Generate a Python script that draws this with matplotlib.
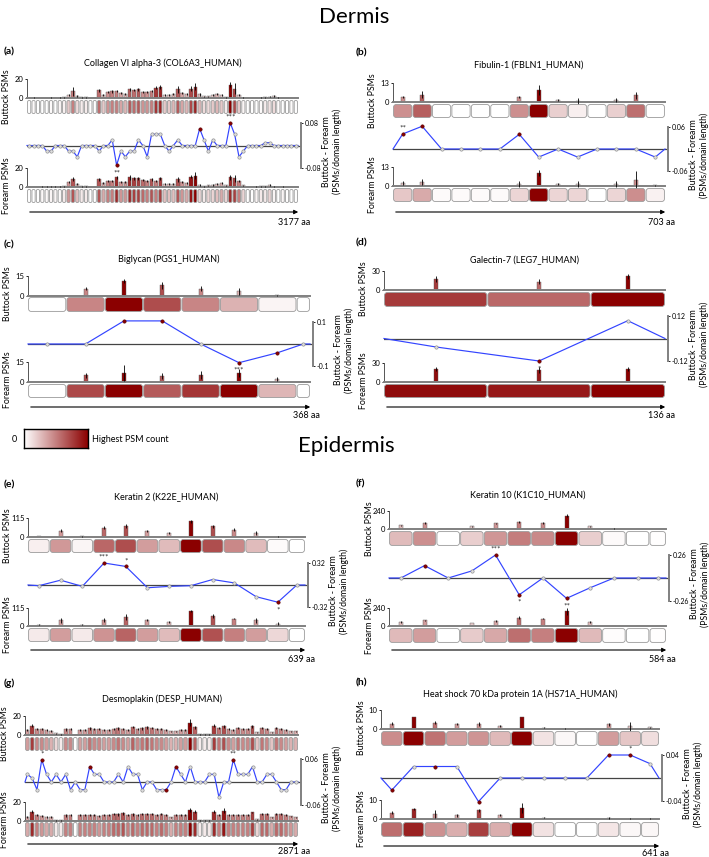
import numpy as np
import matplotlib
matplotlib.use("Agg")
import matplotlib.pyplot as plt
from matplotlib.colors import LinearSegmentedColormap
from matplotlib.patches import FancyBboxPatch, FancyArrowPatch

plt.rcParams['font.family'] = ['Lato', 'DejaVu Sans']

W, H = 709, 857

# ---- data (PSM counts per domain, buttock / forearm, and difference) ----
a_title = "Collagen VI alpha-3 (COL6A3_HUMAN)"
a_len = 3177
a_widths = [1] * 62
a_butt = [0, 0.3, 0, 0, 0, 0.3, 0, 0.5, 0.8, 3, 7, 2, 1, 1, 0, 0,
          8, 3, 6, 7, 7, 5, 4, 9, 8, 9, 6, 6, 7, 11, 12, 3, 3, 4, 9, 5, 4, 10, 12, 4, 2, 2, 3, 4, 3, 1, 14, 10, 3, 0.5,
          0, 0, 0, 0.3, 1, 1.5, 2, 0.3, 0, 0, 0.2, 0]
a_butt_err = [0, 0.3, 0, 0, 0, 0.3, 0, 0.4, 0.6, 1, 5, 1, 0.5, 0.5, 0, 0,
              1.5, 1, 1, 1.5, 1, 1, 1, 1.5, 1, 1.5, 1, 1, 1, 2, 2, 1, 1, 1, 4, 1, 1, 3, 4, 1.5, 0.5, 0.5, 1, 1, 1, 0.5, 2.5, 6, 1, 0.5,
              0, 0, 0, 0.3, 0.5, 0.5, 1, 0.3, 0, 0, 0.2, 0]
a_fore = [0, 0, 0, 0.3, 0.3, 0.5, 0.5, 0.3, 1, 5, 8, 3, 1, 1, 0, 0,
          8, 4, 6, 6, 10, 5, 5, 10, 9, 9, 7, 6, 8, 6, 9, 3, 3, 3, 8, 5, 4, 11, 12, 2, 1, 2, 2, 3, 4, 2, 10, 9, 6, 2,
          0, 0, 0.5, 1, 1, 2, 0.5, 0, 0.5, 0, 0, 0]
a_fore_err = [0, 0, 0, 0.3, 0.3, 0.4, 0.4, 0.3, 0.5, 1, 2, 1, 0.5, 0.5, 0, 0,
              1.5, 1, 1, 1, 2, 1, 1, 3, 1.5, 1.5, 1, 1, 1.5, 1, 1.5, 1, 1, 1, 3, 1, 1, 2, 4, 1, 0.5, 0.5, 1, 1, 1, 0.5, 3, 4, 1, 0.5,
              0, 0, 0.3, 0.5, 0.5, 1, 0.3, 0, 0.3, 0, 0, 0]
a_diff = [0, 0, 0, 0, -0.02, -0.02, 0, 0, 0, -0.02, -0.02, -0.04, 0, 0, 0, 0,
          -0.02, 0, 0, 0.02, -0.07, -0.02, -0.04, -0.02, -0.02, 0.02, 0, -0.04, 0.04, 0.04, 0.04, 0, -0.02, 0, 0.02,
          0, 0, 0, 0, 0.06, 0.02, -0.02, 0.02, 0, 0, 0, 0.08, 0.04, -0.04, -0.02,
          0, 0, 0, 0, 0.01, 0.01, 0, 0, 0, 0, 0, 0]
a_red = [20, 39, 46]
a_stars = {20: "**", 46: "***"}

b_title = "Fibulin-1 (FBLN1_HUMAN)"
b_len = 703
b_widths = [1] * 14
b_butt = [3.5, 5, 0, 0, 0, 0, 3.5, 8, 1.5, 0.5, 0, 1.5, 4.5, 0]
b_butt_err = [0.8, 2.5, 0, 0, 0, 0, 0.8, 3.5, 0.5, 2.5, 0, 1.5, 2.5, 0]
b_fore = [2, 3, 0.2, 0.2, 0.2, 0.2, 1.5, 9, 1.5, 1.5, 0, 1.5, 4, 0.5]
b_fore_err = [1.5, 2, 0, 0, 0, 0, 2, 2, 0.5, 2, 0, 2, 6, 0.5]
b_diff = [0.041, 0.062, 0, 0, 0, 0, 0.04, -0.022, 0, -0.022, 0, 0, 0, -0.022]
b_red = [0, 1, 6]
b_stars = {0: "**", 1: "***"}

c_title = "Biglycan (PGS1_HUMAN)"
c_len = 368
c_widths = [1, 1, 1, 1, 1, 1, 1, 0.35]
c_butt = [0, 5.5, 11.5, 8, 5.5, 3.5, 0.5, 0]
c_butt_err = [0, 1, 1.5, 2.5, 2, 2.5, 0.5, 0]
c_fore = [0, 5, 7, 4.5, 5.5, 7, 2, 0]
c_fore_err = [0, 2, 6, 2, 3, 3, 1.5, 0]
c_diff = [0, 0, 0.105, 0.105, 0, -0.085, -0.04, 0]
c_red = [2, 3, 5, 6]
c_stars = {2: "***", 3: "***", 5: "***"}

d_title = "Galectin-7 (LEG7_HUMAN)"
d_len = 136
d_widths = [1, 1, 0.72]
d_butt = [17, 13, 22]
d_butt_err = [5, 4, 4]
d_fore = [20, 19, 21]
d_fore_err = [3, 4, 3]
d_diff = [-0.045, -0.12, 0.095]
d_red = [1]
d_stars = {1: "*"}

e_title = "Keratin 2 (K22E_HUMAN)"
e_len = 639
e_widths = [1] * 12 + [0.75]
e_butt = [6, 38, 4, 56, 65, 36, 25, 94, 65, 44, 25, 2, 0]
e_butt_err = [2, 8, 2, 10, 12, 5, 5, 8, 10, 8, 12, 5, 0]
e_fore = [8, 36, 8, 40, 57, 36, 25, 94, 64, 47, 36, 15, 0]
e_fore_err = [3, 14, 4, 14, 20, 6, 4, 6, 15, 5, 14, 10, 0]
e_diff = [-0.01, 0.07, -0.02, 0.32, 0.27, -0.04, -0.02, -0.01, 0.08, 0.03, -0.17, -0.25, 0]
e_red = [3, 4, 11]
e_stars = {3: "***", 4: "*", 11: "*"}

f_title = "Keratin 10 (K1C10_HUMAN)"
f_len = 584
f_widths = [1] * 11 + [0.7]
f_butt = [48, 79, 0, 35, 74, 92, 83, 180, 35, 4, 0, 1]
f_butt_err = [8, 8, 0, 6, 10, 10, 10, 20, 8, 3, 0, 1]
f_fore = [53, 75, 0, 40, 67, 110, 98, 195, 53, 3, 0, 1]
f_fore_err = [8, 10, 0, 6, 12, 20, 10, 45, 12, 2, 0, 1]
f_diff = [0, 0.14, 0, 0.08, 0.26, -0.19, 0, -0.23, -0.11, 0, 0, 0]
f_red = [1, 4, 5, 7]
f_stars = {4: "***", 5: "*", 7: "**"}

g_title = "Desmoplakin (DESP_HUMAN)"
g_len = 2871
g_widths = [1] * 57
g_butt = [5, 10, 6, 6, 5, 4, 2, 1, 6, 6, 0, 5, 5, 7, 6, 6, 5, 5, 6, 7, 6, 5, 8, 6, 7, 8, 7, 6, 6, 5,
          4, 4, 5, 5, 13, 8, 1, 1, 1, 10, 7, 9, 6, 5, 7, 6, 6, 9, 3, 7, 6, 3, 7, 6, 5, 4, 4]
g_butt_err = [1, 2, 1, 1, 1, 1, 0.5, 0.5, 1.5, 1, 0, 1, 1, 1.5, 1, 1, 1, 1, 1, 1.5, 1, 1, 1, 1, 1.5, 1.5, 1, 1, 1, 1,
              0.5, 0.5, 1, 1, 4, 2, 0.5, 0.5, 0.5, 1.5, 1, 1.5, 1, 1, 1, 1, 1, 1.5, 0.5, 1, 1, 0.5, 1, 1, 1, 0.5, 0.5]
g_fore = [4, 10, 6, 5, 4, 4, 1, 1, 6, 6, 0, 6, 6, 6, 6, 5, 6, 6, 7, 7, 8, 6, 7, 6, 7, 7, 7, 6, 7, 6,
          4, 6, 6, 6, 12, 10, 1, 1, 1, 10, 6, 11, 6, 6, 6, 6, 6, 9, 2, 7, 7, 4, 7, 7, 6, 5, 4]
g_fore_err = [1, 1.5, 1, 1, 1, 1, 0.5, 0.5, 1.5, 1, 0, 1, 1, 1, 1, 1, 1, 1, 1, 1.5, 2, 1, 1.5, 1, 1, 1, 1, 1, 1, 1,
              0.5, 1, 1, 1, 2, 2, 0.5, 0.5, 0.5, 2, 1, 2.5, 1, 1, 1, 1, 1, 1, 0.5, 1, 1, 0.5, 1, 1, 1, 0.5, 0.5]
g_diff = [0.02, 0.01, -0.02, 0.058, 0.02, 0, 0.02, 0, 0.02, -0.02, 0, -0.02, -0.02, 0.04, 0.02, 0.02, 0, 0, 0, 0.02,
          0, 0.04, 0.02, 0.02, -0.02, 0, 0, -0.02, -0.02, -0.02, 0, 0.04, 0.02, 0, 0.04, 0, 0, 0, 0.02, 0.02,
          -0.04, 0, 0, 0.058, 0.02, 0.02, 0.02, 0.04, 0, 0, 0.02, 0.02, 0, -0.02, -0.02, 0, 0]
g_red = [3, 13, 29, 31, 43]
g_stars = {3: "*", 43: "**"}

h_title = "Heat shock 70 kDa protein 1A (HS71A_HUMAN)"
h_len = 641
h_widths = [1] * 12 + [0.83]
h_butt = [2.8, 6.2, 3.4, 2.4, 2.6, 1.7, 6.2, 0.7, 0.2, 0, 2.4, 1.4, 0.8]
h_butt_err = [0.8, 0, 1, 0.5, 1.2, 0.6, 0, 0.3, 0.2, 0, 0.6, 2.2, 0.4]
h_fore = [3.4, 5.2, 2.6, 1.9, 4.5, 1.9, 6, 0.7, 0, 0, 0.6, 0.2, 0.2]
h_fore_err = [0.8, 0.5, 2, 0.6, 0.8, 0.5, 2.6, 0.4, 0, 0, 0.4, 0.2, 0.2]
h_diff = [-0.021, 0.02, 0.02, 0.02, -0.041, 0, 0, 0, 0, 0, 0.04, 0.04, 0.025]
h_red = [0, 2, 4, 10, 11]
h_stars = {4: "***", 11: "*"}

# axis maxima: bar axis top, difference axis limit
ymaxes = {"a": 20, "b": 13, "c": 15, "d": 30, "e": 115, "f": 240, "g": 20, "h": 10}
dlims = {"a": 0.08, "b": 0.06, "c": 0.1, "d": 0.12, "e": 0.32, "f": 0.26, "g": 0.06, "h": 0.04}

# ---- layout in pixels (top-based): x0, x1, label y, title y, bars, domains, diff, bars, domains, arrow y, aa y
layout = {
    "a": (27, 298, 52, 63, (79, 98), (100, 114), (123, 168), (168, 187), (189, 203), 212, 222),
    "b": (393, 665, 53, 65, (83, 102), (104, 118), (127, 171), (167, 186), (188, 202), 212, 222),
    "c": (28, 310, 245, 259, (276, 296), (297, 312), (322, 366), (362, 382), (384, 398), 407, 416),
    "d": (384, 665, 243, 260, (271, 290), (292, 307), (316, 361), (363, 382), (384, 398), 407, 416),
    "e": (28, 305, 485, 497, (518, 537), (539, 553), (563, 607), (608, 626), (628, 642), 650, 660),
    "f": (389, 666, 484, 495, (511, 529), (531, 546), (555, 601), (608, 626), (628, 643), 650, 660),
    "g": (25, 298, 683, 699, (716, 735), (737, 751), (759, 805), (802, 821), (822, 837), 844, 852),
    "h": (381, 659, 683, 694, (710, 729), (731, 746), (755, 801), (800, 819), (822, 837), 846, 853),
}

psm_cmap = LinearSegmentedColormap.from_list("psm", ["#ffffff", "#8b0000"])
GREY = "#808080"
LINE_BLUE = "#3344ff"

fig = plt.figure(figsize=(W / 100, H / 100), dpi=100)


def px_axes(x0, x1, top, bottom):
    return fig.add_axes([x0 / W, 1 - bottom / H, (x1 - x0) / W, (bottom - top) / H])


def fy(y):
    return 1 - y / H


def bar_row(ax, centers, total, bar_w, vals, errs, ymax):
    vals = np.asarray(vals, float)
    colors = psm_cmap(vals / vals.max())
    ax.bar(centers, vals, width=bar_w, color=colors, edgecolor="#555555", linewidth=0.3, zorder=2)
    ax.errorbar(centers, vals, yerr=errs, fmt="none", ecolor="black", elinewidth=0.6, capsize=0,
                zorder=3, clip_on=False)
    ax.set_xlim(0, total)
    ax.set_ylim(0, ymax)
    ax.set_yticks([0, ymax])
    ax.set_xticks([])
    ax.patch.set_alpha(0)
    for s in ["top", "right"]:
        ax.spines[s].set_visible(False)
    ax.spines["bottom"].set_color(GREY)
    ax.spines["bottom"].set_linewidth(1.4)
    ax.spines["left"].set_color("#555555")
    ax.spines["left"].set_linewidth(0.7)
    ax.tick_params(axis="y", length=1.5, width=0.6, labelsize=5.5, pad=1)


def domain_row(ax, starts, widths, total, vals, x0, x1, top, bottom):
    vals = np.asarray(vals, float)
    ax.set_xlim(0, total)
    ax.set_ylim(0, 1)
    ax.axis("off")
    ux = total / (x1 - x0)
    uy = 1.0 / (bottom - top)
    for s, w, v in zip(starts, widths, vals):
        wpx = w / ux - 1.2
        r = min(2.5, 0.4 * wpx)
        box = FancyBboxPatch((s + 0.6 * ux, 0.04), w - 1.2 * ux, 0.92,
                             boxstyle=f"round,pad=0,rounding_size={r * ux}",
                             mutation_aspect=uy / ux,
                             fc=psm_cmap(v / vals.max()), ec="#9a9a9a", lw=0.6)
        ax.add_patch(box)


def draw_panel(key, title, aa, widths, butt, butt_err, fore, fore_err, diff, red, stars):
    x0, x1, lab_y, title_y, bar, dom1, dspan, fbar, dom2, arrow_y, aa_y = layout[key]
    ymax = ymaxes[key]
    lim = dlims[key]
    widths = np.asarray(widths, float)
    starts = np.concatenate([[0], np.cumsum(widths)[:-1]])
    centers = starts + widths / 2
    total = widths.sum()
    ux = total / (x1 - x0)
    bar_w = min(4 * ux, 0.8 * widths.min())

    # panel letter and protein name
    lab_x = 4 if x0 < 200 else 356
    fig.text(lab_x / W, fy(lab_y), f"({key})", fontsize=7.5, fontweight="bold", va="center")
    fig.text((x0 + x1) / 2 / W, fy(title_y), title, fontsize=6.5, ha="center", va="center")

    # buttock
    ax_b = px_axes(x0, x1, *bar)
    bar_row(ax_b, centers, total, bar_w, butt, butt_err, ymax)
    domain_row(px_axes(x0, x1, *dom1), starts, widths, total, butt, x0, x1, *dom1)
    fig.text((x0 - 20) / W, fy((bar[0] + dom1[1]) / 2), "Buttock PSMs", rotation=90,
             fontsize=6.3, ha="center", va="center")

    # forearm
    ax_f = px_axes(x0, x1, *fbar)
    bar_row(ax_f, centers, total, bar_w, fore, fore_err, ymax)
    domain_row(px_axes(x0, x1, *dom2), starts, widths, total, fore, x0, x1, *dom2)
    fig.text((x0 - 20) / W, fy((fbar[0] + dom2[1]) / 2), "Forearm PSMs", rotation=90,
             fontsize=6.3, ha="center", va="center")

    # difference
    ax_d = px_axes(x0, x1 + 3, *dspan)
    ax_d.set_xlim(0, total + 3 * ux)
    ax_d.set_ylim(-lim, lim)
    ax_d.patch.set_alpha(0)
    ax_d.axhline(0, color="#444444", lw=0.9, zorder=1)
    xs = np.concatenate([[0], centers, [total]])
    ys = np.concatenate([[0], diff, [0]])
    ax_d.plot(xs, ys, color=LINE_BLUE, lw=0.85, zorder=2, clip_on=False)
    diff = np.asarray(diff, float)
    is_red = np.isin(np.arange(len(diff)), red)
    ax_d.plot(centers[~is_red], diff[~is_red], "o", ms=2.4, mfc="#dddddd", mec="#8a8a8a", mew=0.45,
              zorder=3, clip_on=False)
    ax_d.plot(centers[is_red], diff[is_red], "o", ms=2.4, mfc="#8b0000", mec="#5a0000", mew=0.45,
              zorder=4, clip_on=False)
    for i, s in stars.items():
        up = diff[i] >= 0
        ax_d.annotate(s, (centers[i], diff[i]), xytext=(0, 1.5 if up else -3), textcoords="offset points",
                      ha="center", va="bottom" if up else "top", fontsize=6, color="#333333")
    for s in ["top", "left", "bottom"]:
        ax_d.spines[s].set_visible(False)
    ax_d.spines["right"].set_color(GREY)
    ax_d.spines["right"].set_linewidth(1.4)
    ax_d.set_xticks([])
    ax_d.yaxis.tick_right()
    ax_d.set_yticks([-lim, lim])
    ax_d.set_yticklabels([f"{-lim:g}", f"{lim:g}"])
    ax_d.tick_params(axis="y", length=1.5, width=0.6, labelsize=5, pad=1)
    zero_y = (dspan[0] + dspan[1]) / 2
    fig.text((x1 + 34) / W, fy(zero_y + 6), "Buttock - Forearm\n(PSMs/domain length)", rotation=90,
             fontsize=6.3, ha="center", va="center", linespacing=1.1)

    # protein length arrow
    fig.add_artist(FancyArrowPatch((x0 / W, fy(arrow_y)), ((x1 + 3) / W, fy(arrow_y)),
                                   transform=fig.transFigure, arrowstyle="-|>", mutation_scale=6,
                                   lw=0.8, color="black"))
    fig.text((x1 - 4) / W, fy(aa_y), f"{aa} aa", fontsize=6.5, ha="center", va="center")


draw_panel("a", a_title, a_len, a_widths, a_butt, a_butt_err, a_fore, a_fore_err, a_diff, a_red, a_stars)
draw_panel("b", b_title, b_len, b_widths, b_butt, b_butt_err, b_fore, b_fore_err, b_diff, b_red, b_stars)
draw_panel("c", c_title, c_len, c_widths, c_butt, c_butt_err, c_fore, c_fore_err, c_diff, c_red, c_stars)
draw_panel("d", d_title, d_len, d_widths, d_butt, d_butt_err, d_fore, d_fore_err, d_diff, d_red, d_stars)
draw_panel("e", e_title, e_len, e_widths, e_butt, e_butt_err, e_fore, e_fore_err, e_diff, e_red, e_stars)
draw_panel("f", f_title, f_len, f_widths, f_butt, f_butt_err, f_fore, f_fore_err, f_diff, f_red, f_stars)
draw_panel("g", g_title, g_len, g_widths, g_butt, g_butt_err, g_fore, g_fore_err, g_diff, g_red, g_stars)
draw_panel("h", h_title, h_len, h_widths, h_butt, h_butt_err, h_fore, h_fore_err, h_diff, h_red, h_stars)

# section titles
fig.text(354 / W, fy(17), "Dermis", fontsize=16, ha="center", va="center")
fig.text(346 / W, fy(446), "Epidermis", fontsize=16, ha="center", va="center")

# colour scale legend
ax_cb = px_axes(24, 88, 429, 448)
ax_cb.imshow(np.linspace(0, 1, 256)[None, :], cmap=psm_cmap, aspect="auto")
ax_cb.set_xticks([])
ax_cb.set_yticks([])
for s in ax_cb.spines.values():
    s.set_linewidth(1.0)
    s.set_color("black")
fig.text(14 / W, fy(439), "0", fontsize=6.5, ha="center", va="center")
fig.text(92 / W, fy(439), "Highest PSM count", fontsize=6.5, ha="left", va="center")

fig.savefig("out.png", dpi=100)
